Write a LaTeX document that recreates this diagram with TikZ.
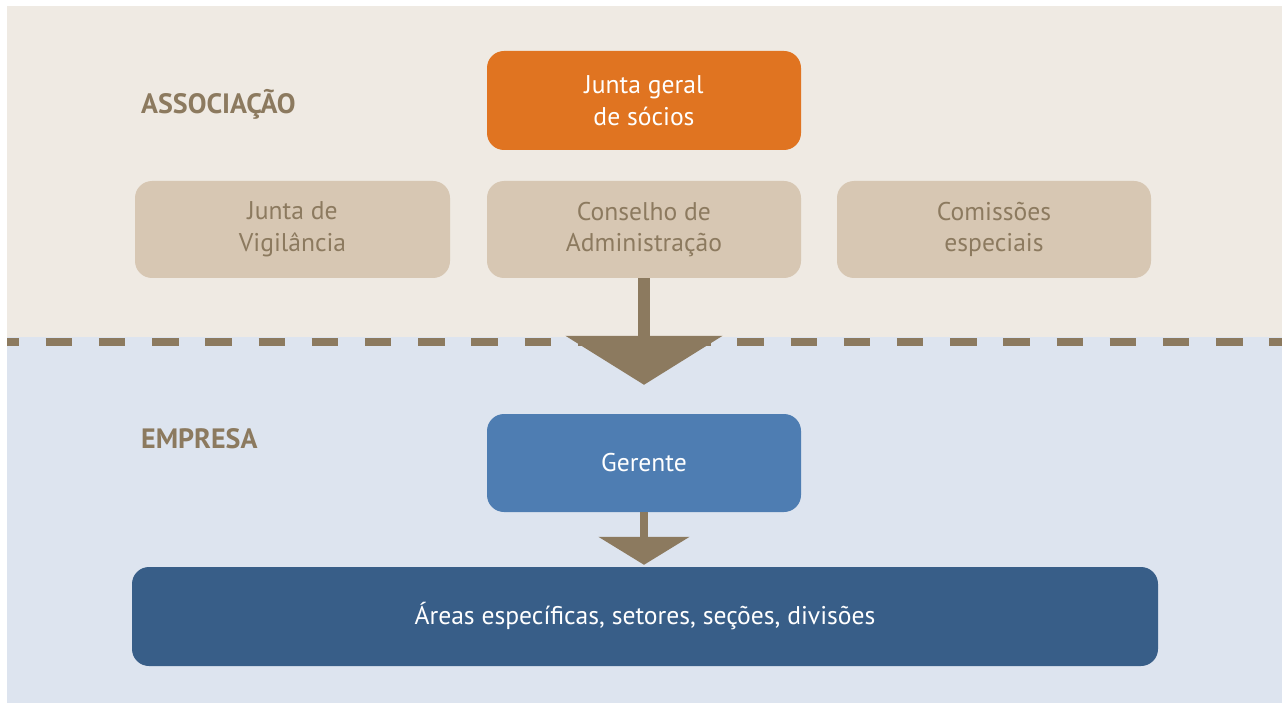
\documentclass[tikz,border=0pt]{standalone}
\usepackage{fontspec}
\setmainfont{PT Sans}
\usetikzlibrary{arrows.meta}
\definecolor{bgtop}{HTML}{EFEAE3}
\definecolor{bgbot}{HTML}{DDE4EF}
\definecolor{brn}{HTML}{8C7A5F}
\definecolor{boxbeige}{HTML}{D7C7B3}
\definecolor{orng}{HTML}{E07421}
\definecolor{gblue}{HTML}{4E7DB2}
\definecolor{dblue}{HTML}{385E88}
\begin{document}
\begin{tikzpicture}[x=1pt,y=-1pt,
  box/.style={rounded corners=17pt, minimum width=314pt, minimum height=98pt,
    align=center, inner sep=0pt, font=\fontsize{25.6}{31.5}\selectfont},
  beigebox/.style={box, fill=boxbeige, text=brn},
  lbl/.style={anchor=west, inner sep=0pt, text=brn, font=\bfseries\fontsize{28}{30}\selectfont},
  bigarr/.style={draw=brn, fill=brn, line width=12pt, -{Triangle[length=49pt,width=155pt]}},
  smallarr/.style={draw=brn, fill=brn, line width=8pt, -{Triangle[length=28pt,width=90pt]}},
  dashline/.style={draw=brn, line width=8pt, dash pattern=on 26.5pt off 26.7pt, dash phase=14.5pt}
]
\useasboundingbox (0,0) rectangle (1282,703);
\fill[white] (0,0) rectangle (1282,703);
\fill[bgtop] (7,6) rectangle (1282,337);
\fill[bgbot] (7,337) rectangle (1282,703);

\coordinate (dl) at (7,342);
\coordinate (dr) at (1282,342);
\draw[dashline] (dl) -- (dr);

\node[lbl] (assoc) at (141,104) {ASSOCIAÇÃO};
\node[lbl] (emp) at (141,439) {EMPRESA};

\node[box, fill=orng, text=white, minimum height=99pt] (jg) at (644,100.5) {Junta geral\\de sócios};
\node[beigebox, minimum width=315pt, minimum height=97pt] (jv) at (292.5,229.5) {Junta de\\Vigilância};
\node[beigebox, minimum height=97pt] (ca) at (644,229.5) {Conselho de\\Administração};
\node[beigebox, minimum height=97pt] (cs) at (994,229.5) {Comissões\\especiais};
\node[box, fill=gblue, text=white] (ger) at (644,463) {Gerente};
\node[box, fill=dblue, text=white, minimum width=1026pt, minimum height=99pt] (ar) at (645,616.5) {Áreas específicas, setores, seções, divisões};

\draw[bigarr, shorten >=29pt] (ca.south) -- (ger.north);
\draw[smallarr, shorten >=2pt] (ger.south) -- (ger.south |- ar.north);
\end{tikzpicture}
\end{document}
